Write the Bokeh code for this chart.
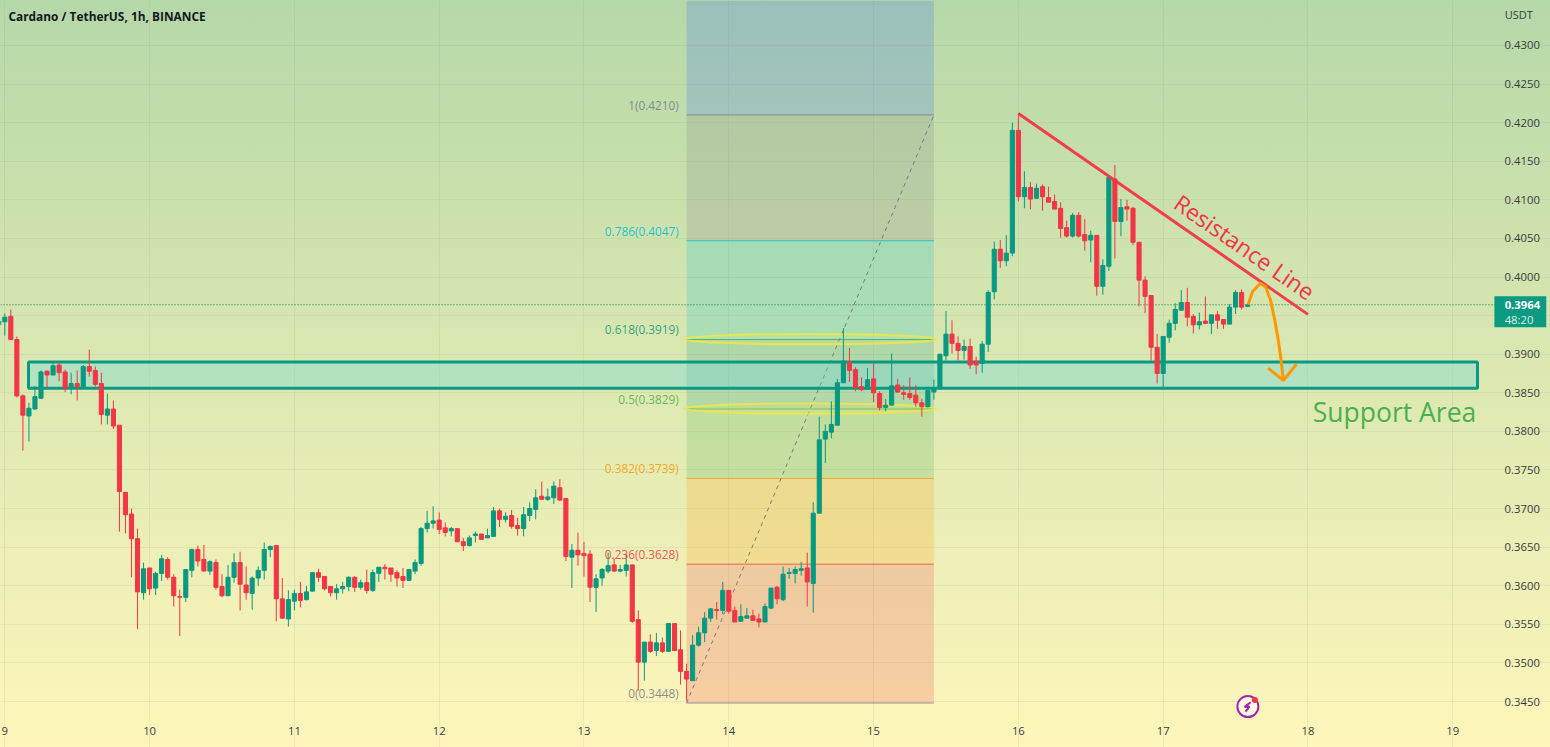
import numpy as np
from bokeh.plotting import figure
from bokeh.models import (ColumnDataSource, FixedTicker, NumeralTickFormatter, Label)
from bokeh.embed import file_html
from bokeh.resources import INLINE

# Hour index: 0 = day 9, 00:00. Prices in ten-thousandths of USDT.
hours = list(range(-1, 207))
opens = [3938,3942,3949,3919,3846,3820,3829,3843,3878,3873,
3886,3877,3856,3862,3857,3884,3879,3862,3821,3829,
3808,3721,3693,3661,3591,3623,3597,3616,3634,3611,
3586,3585,3620,3647,3634,3619,3630,3599,3587,3611,
3630,3601,3590,3610,3620,3647,3652,3583,3557,3580,
3590,3582,3593,3617,3612,3599,3591,3596,3599,3611,
3598,3604,3594,3616,3624,3623,3617,3612,3607,3619,
3629,3674,3681,3685,3675,3671,3674,3657,3652,3665,
3667,3662,3664,3697,3686,3691,3678,3674,3691,3699,
3716,3712,3714,3727,3713,3637,3646,3642,3641,3598,
3610,3619,3627,3619,3620,3627,3556,3501,3527,3516,
3526,3515,3551,3517,3489,3477,3523,3539,3558,3569,
3568,3594,3568,3554,3558,3561,3557,3553,3571,3598,
3582,3616,3616,3620,3623,3603,3694,3790,3799,3808,
3863,3890,3880,3858,3855,3868,3849,3831,3834,3860,
3850,3849,3847,3837,3832,3851,3855,3898,3926,3914,
3905,3910,3891,3888,3913,3981,4036,4021,4031,4190,
4104,4116,4102,4117,4103,4098,4089,4064,4053,4080,
4055,4048,4054,3988,4014,4127,4072,4091,4089,4045,
3996,3976,3909,3875,3922,3940,3957,3967,3949,3938,
3943,3940,3951,3945,3939,3961,3980,3962]
closes = [3943,3948,3919,3846,3821,3830,3845,3877,3873,3885,
3876,3856,3862,3858,3884,3878,3861,3822,3829,3807,
3722,3692,3661,3592,3622,3596,3616,3635,3611,3587,
3585,3621,3647,3632,3619,3631,3598,3587,3611,3630,
3602,3591,3610,3620,3647,3651,3583,3558,3582,3590,
3581,3592,3617,3611,3596,3591,3596,3599,3611,3598,
3604,3594,3617,3624,3622,3615,3610,3607,3621,3630,
3674,3681,3684,3673,3669,3674,3657,3652,3662,3667,
3660,3665,3697,3686,3690,3677,3674,3692,3700,3714,
3712,3715,3729,3711,3638,3646,3640,3639,3598,3609,
3621,3626,3619,3621,3627,3554,3501,3527,3515,3526,
3515,3551,3516,3489,3479,3523,3539,3558,3570,3568,
3594,3567,3553,3560,3561,3555,3553,3573,3597,3583,
3615,3617,3621,3622,3605,3694,3789,3800,3809,3863,
3891,3879,3857,3854,3867,3850,3831,3834,3859,3851,
3848,3844,3837,3832,3853,3855,3900,3926,3914,3905,
3910,3886,3886,3913,3980,4036,4021,4031,4190,4104,
4116,4101,4115,4104,4097,4088,4063,4053,4080,4053,
4047,4054,3988,4015,4129,4072,4090,4088,4045,3996,
3975,3909,3875,3923,3940,3958,3967,3948,3938,3942,
3940,3951,3944,3939,3961,3980,3961,3964]
highs = [3946,3953,3958,3923,3848,3837,3859,3879,3879,3891,
3890,3880,3876,3879,3886,3906,3884,3876,3849,3840,
3808,3721,3700,3674,3630,3623,3618,3640,3637,3615,
3595,3621,3648,3652,3653,3633,3634,3615,3627,3642,
3644,3625,3612,3625,3656,3652,3652,3610,3594,3595,
3605,3600,3617,3622,3612,3599,3602,3605,3612,3612,
3608,3621,3621,3624,3628,3623,3620,3623,3621,3634,
3676,3697,3703,3695,3682,3676,3674,3662,3665,3670,
3667,3674,3702,3700,3695,3698,3688,3702,3708,3725,
3735,3726,3735,3738,3713,3654,3669,3657,3646,3615,
3623,3643,3635,3627,3641,3627,3568,3527,3537,3539,
3533,3551,3551,3542,3499,3536,3547,3566,3571,3579,
3605,3594,3573,3576,3571,3569,3564,3577,3597,3600,
3625,3623,3625,3631,3643,3708,3819,3809,3839,3868,
3934,3908,3883,3870,3882,3888,3852,3842,3901,3868,
3860,3870,3860,3842,3855,3867,3900,3956,3944,3923,
3919,3920,3897,3917,3983,4046,4048,4054,4200,4212,
4137,4123,4121,4120,4117,4107,4097,4073,4083,4084,
4075,4060,4054,4023,4132,4145,4101,4100,4091,4045,
4001,3976,3926,3923,3945,3966,3983,3986,3952,3954,
3975,3951,3956,3945,3965,3983,3984,3965]
lows = [3935,3924,3919,3844,3775,3787,3828,3842,3856,3873,
3865,3851,3848,3840,3856,3871,3858,3809,3809,3803,
3670,3668,3611,3544,3582,3588,3588,3606,3608,3573,
3535,3579,3611,3625,3619,3614,3595,3585,3587,3604,
3568,3582,3569,3600,3608,3637,3554,3557,3547,3568,
3572,3581,3593,3605,3594,3586,3582,3590,3593,3592,
3595,3590,3592,3605,3608,3605,3599,3597,3606,3615,
3626,3669,3674,3667,3664,3664,3657,3645,3651,3656,
3660,3662,3664,3676,3682,3674,3665,3664,3684,3686,
3712,3710,3706,3710,3632,3597,3626,3612,3579,3566,
3600,3616,3618,3618,3612,3552,3464,3477,3513,3509,
3513,3515,3516,3472,3451,3477,3521,3527,3553,3556,
3563,3564,3553,3553,3557,3555,3546,3553,3570,3576,
3580,3609,3603,3613,3573,3565,3694,3759,3791,3808,
3863,3864,3852,3852,3854,3838,3827,3826,3834,3850,
3841,3841,3832,3819,3831,3841,3855,3892,3901,3892,
3893,3881,3874,3876,3903,3971,4012,4014,4027,4098,
4089,4088,4101,4086,4097,4088,4051,4051,4051,4051,
4034,4019,3976,3977,4008,4024,4053,4073,4041,3962,
3953,3892,3862,3857,3915,3931,3957,3936,3927,3932,
3939,3926,3933,3933,3939,3952,3958,3961]
assert len(hours) == len(opens) == len(closes) == len(highs) == len(lows)

day_labels = ["9", "10", "11", "12", "13", "14", "15", "16", "17", "18", "19"]
price_ticks = [0.345, 0.35, 0.355, 0.36, 0.365, 0.37, 0.375, 0.38, 0.385, 0.39,
               0.395, 0.40, 0.405, 0.41, 0.415, 0.42, 0.425, 0.43]
fib_ratios = ["0", "0.236", "0.382", "0.5", "0.618", "0.786", "1"]
fib_prices = [0.3448, 0.3628, 0.3739, 0.3829, 0.3919, 0.4047, 0.4210]
fib_colors = ["#787b86", "#f23645", "#ff9800", "#4caf50", "#089981", "#00bcd4", "#787b86"]
last_price = 0.3964

GREEN, RED = "#089981", "#f23645"
FONT = "Open Sans"
Y_TOP, Y_BOTTOM = 0.43583, 0.33904
X_LEFT, X_RIGHT = -0.713, 256.2
PANE_RIGHT, PANE_BOTTOM = 247.1, 0.34280

p = figure(width=1550, height=747, output_backend="svg", toolbar_location=None,
           x_range=(X_LEFT, X_RIGHT), y_range=(Y_BOTTOM, Y_TOP),
           y_axis_location="right", min_border=0, outline_line_color=None)
p.styles = {"position": "absolute", "left": "0px", "top": "0px",
            "background": "linear-gradient(180deg,#b5d8a8 0%,#dce8b1 50%,#fef6bb 100%)"}
p.background_fill_alpha = 0
p.border_fill_alpha = 0

p.xaxis.ticker = FixedTicker(ticks=[24 * i for i in range(len(day_labels))])
p.xaxis.major_label_overrides = {24 * i: s for i, s in enumerate(day_labels)}
p.yaxis.ticker = FixedTicker(ticks=price_ticks)
p.yaxis.formatter = NumeralTickFormatter(format="0.0000")
p.yaxis.major_label_overrides = {0.395: ""}  # hidden behind the price tag in the reference
p.xaxis.fixed_location = PANE_BOTTOM
p.yaxis.fixed_location = PANE_RIGHT
for ax in (p.xaxis[0], p.yaxis[0]):
    ax.axis_line_color = None
    ax.major_tick_line_color = None
    ax.minor_tick_line_color = None
    ax.major_tick_out = 0
    ax.major_tick_in = 0
    ax.minor_tick_out = 0
    ax.minor_tick_in = 0
    ax.major_label_text_font = FONT
    ax.major_label_text_font_size = "11.3px"
    ax.major_label_text_color = "#3a3d42"
p.yaxis.major_label_standoff = 9
p.xaxis.major_label_standoff = 9
p.xgrid[0].bounds = (PANE_BOTTOM, Y_TOP)
p.ygrid[0].bounds = (X_LEFT, PANE_RIGHT)
for g in (p.xgrid[0], p.ygrid[0]):
    g.grid_line_color = "#787b86"
    g.grid_line_alpha = 0.1

# Fibonacci zones
fl, fr = 113, 154
zone_bottoms = fib_prices + []
zone_tops = fib_prices[1:] + [Y_TOP]
zone_colors = fib_colors[1:] + ["#2962ff"]
p.quad(left=fl, right=fr, bottom=zone_bottoms, top=zone_tops, fill_color=zone_colors,
       fill_alpha=0.2, line_color=None)
p.segment(x0=fl, x1=fr, y0=fib_prices, y1=fib_prices, line_color=fib_colors, line_width=1, line_alpha=0.75)
p.line([fl, fr], [fib_prices[0], fib_prices[-1]], line_color="#787b86", line_dash="4 4", line_width=1)
for r, v, c in zip(fib_ratios, fib_prices, fib_colors):
    p.add_layout(Label(x=111.7, y=v + 0.00132, text=f"{r}({v:.4f})", text_color=c, text_alpha=0.85,
                       text_font=FONT, text_font_size="11.8px", text_align="right",
                       text_baseline="middle"))
for v in (0.3919, 0.3829):
    p.ellipse(x=(fl + fr) / 2, y=v + 0.00005, width=fr - fl + 0.8, height=0.00135, fill_color="#f5e94a",
              fill_alpha=0.15, line_color="#eee84a", line_width=2, line_alpha=0.85)

# Last price line
p.line([X_LEFT, PANE_RIGHT], [last_price, last_price], line_color="#066b5a", line_width=1, line_dash="1 2")

# Support area (the candles are drawn over it)
p.quad(left=3.93, right=244.1, bottom=0.3856, top=0.3890, fill_color="#78d7d7", fill_alpha=0.4,
       line_color=GREEN, line_width=3)
p.add_layout(Label(x=243.9, y=0.3825, text="Support Area", text_color="#4caf50", text_font=FONT,
                   text_font_size="26.5px", text_align="right", text_baseline="middle"))

# Candles
o, c, h, l = [np.array(a) / 10000 for a in (opens, closes, highs, lows)]
colors = [GREEN if cc >= oo else RED for oo, cc in zip(o, c)]
src = ColumnDataSource(dict(x=hours, o=o, c=c, h=h, l=l, color=colors,
                            top=np.maximum(o, c), bottom=np.minimum(o, c)))
p.segment(x0="x", x1="x", y0="l", y1="h", source=src, line_color="color", line_width=1)
p.vbar(x="x", width=0.68, top="top", bottom="bottom", source=src, fill_color="color", line_color="color", line_width=1)

# Resistance line
p.line([168, 216], [0.4212, 0.39516], line_color=RED, line_width=3, line_alpha=0.95)
p.add_layout(Label(x=205.5, y=0.4039, text="Resistance Line", text_color=RED, text_alpha=1, text_font=FONT,
                   text_font_size="23px", text_align="center", text_baseline="middle",
                   angle=-34.8, angle_units="deg"))

# Projection arrow
p.line([206.1, 206.8, 208.1, 209.0, 209.8, 210.5, 211.0, 211.5, 211.9],
       [0.39645, 0.3981, 0.3992, 0.3987, 0.3970, 0.3944, 0.3922, 0.3895, 0.3868],
       line_color="#ff9800", line_width=3, line_join="round")
p.line([209.4, 211.9, 214.1], [0.3882, 0.3866, 0.3887], line_color="#ff9800", line_width=3)

# Badge
p.scatter(x=[206.04], y=[0.34435], size=21, marker="circle", fill_color="#fffbe0", line_color="#9c27b0", line_width=2)
p.line([206.5, 205.5, 206.3, 205.65], [0.3449, 0.3443, 0.34435, 0.3437], line_color="#9c27b0", line_width=2)
p.scatter(x=[207.2], y=[0.3452], size=6, marker="circle", fill_color="#f23645", line_color=None)

# Title, unit and price tag
p.add_layout(Label(x=0.6, y=0.4338, text="Cardano / TetherUS, 1h, BINANCE", text_color="#131722", text_font=FONT,
                   text_font_style="bold", text_font_size="11.9px", text_baseline="middle"))
p.add_layout(Label(x=248.6, y=0.4340, text="USDT", text_color="#3a3d42", text_font=FONT,
                   text_font_size="11px", text_baseline="middle"))
p.quad(left=246.9, right=255.5, bottom=0.3935, top=0.3975, fill_color="#0c9a81", line_color=None)
p.add_layout(Label(x=248.6, y=last_price, text=f"{last_price:.4f}", text_color="#ffffff", text_font=FONT,
                   text_font_style="bold", text_font_size="11.3px", text_baseline="middle"))
p.add_layout(Label(x=248.6, y=0.3945, text="48:20", text_color="#d8f0e8", text_font=FONT,
                   text_font_size="11.3px", text_baseline="middle"))

open("out.html", "w").write(file_html(p, INLINE))
